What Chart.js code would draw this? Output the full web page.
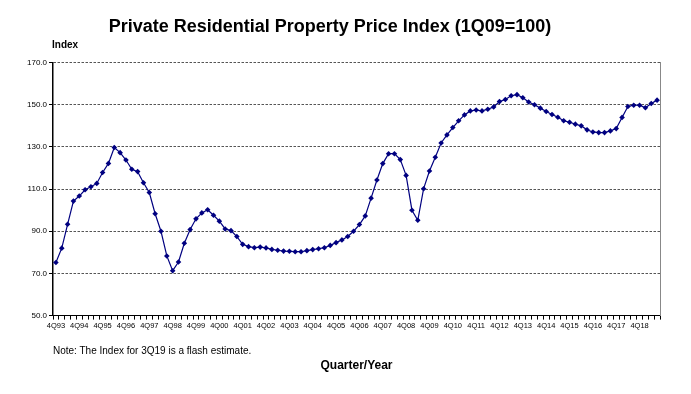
<!DOCTYPE html>
<html>
<head>
<meta charset="utf-8">
<script src="https://cdn.jsdelivr.net/npm/chart.js@4/dist/chart.umd.min.js"></script>
<style>
  body { margin: 0; background: #fff; }
  #wrap { position: relative; width: 691px; height: 394px; font-family: 'Liberation Sans', Arial, sans-serif; }
  #chart { position: absolute; left: 0; top: 0; }
  .lbl { position: absolute; color: #000; white-space: nowrap; }
  #yname { left: 52px; top: 39px; font-size: 10px; font-weight: bold; }
  #note { left: 53px; top: 345px; font-size: 10px; }
</style>
</head>
<body>
<div id="wrap">
  <canvas id="chart" width="691" height="394"></canvas>
  <div class="lbl" id="yname">Index</div>
  <div class="lbl" id="note">Note: The Index for 3Q19 is a flash estimate.</div>
</div>
<script>
// Quarterly labels, 4Q93 .. 3Q19
const firstYear = 1993;
const quarterLabels = [];
for (let y = firstYear; y <= 2019; y++) {
    for (let q = 1; q <= 4; q++) {
        if (y === 1993 && q < 4) continue;
        if (y === 2019 && q > 3) continue;
        quarterLabels.push(q + 'Q' + String(y).slice(2));
    }
}

// Index values (1Q09 = 100)
const priceIndex = [
    75.2, 82.0, 93.3, 104.3, 106.7, 109.7, 111.1, 112.7, 117.9, 122.2,
    129.7, 127.3, 123.8, 119.4, 118.3, 113.0, 108.4, 98.3, 90.0, 78.3,
    71.3, 75.4, 84.3, 90.8, 95.9, 98.7, 100.2, 97.6, 94.8, 91.1,
    90.3, 87.5, 83.8, 82.7, 82.2, 82.5, 82.1, 81.4, 81.0, 80.6,
    80.5, 80.3, 80.3, 80.8, 81.3, 81.7, 82.2, 83.3, 84.6, 85.9,
    87.5, 90.0, 93.2, 97.3, 105.7, 114.3, 122.1, 126.8, 126.8, 124.0,
    116.5, 100.0, 95.2, 110.2, 118.6, 125.1, 131.9, 135.7, 139.2, 142.4,
    145.2, 147.1, 147.5, 147.1, 147.9, 149.0, 151.5, 152.5, 154.3, 154.8,
    153.3, 151.3, 150.0, 148.4, 146.8, 145.4, 144.1, 142.4, 141.7, 140.8,
    140.0, 138.1, 137.1, 136.8, 136.8, 137.6, 138.7, 144.0, 149.2, 149.8,
    149.8, 148.6, 150.6, 152.2
];

// y axis range
const yMin = 50;
const yMax = 170;
const yStep = 20;

const ctx = document.getElementById('chart').getContext('2d');
new Chart(ctx, {
    type: 'line',
    data: {
        labels: quarterLabels,
        datasets: [{
            data: priceIndex,
            borderColor: '#000080',
            backgroundColor: '#000080',
            borderWidth: 1.2,
            pointStyle: 'rectRot',
            pointRadius: 2.8,
            pointBorderWidth: 0,
            tension: 0
        }]
    },
    options: {
        responsive: false,
        animation: false,
        layout: { padding: { left: 0, right: 31, top: 0, bottom: 21 } },
        plugins: {
            legend: { display: false },
            tooltip: { enabled: false },
            title: {
                display: true,
                text: 'Private Residential Property Price Index (1Q09=100)',
                color: '#000',
                font: { family: "'Liberation Sans', Arial, sans-serif", size: 18, weight: 'bold' },
                padding: { top: 16, bottom: 25 }
            }
        },
        scales: {
            x: {
                offset: true,
                grid: {
                    offset: true,
                    drawOnChartArea: false,
                    tickLength: 4,
                    tickColor: '#000'
                },
                border: { color: '#000', width: 1 },
                ticks: {
                    autoSkip: false,
                    maxRotation: 0,
                    padding: 2,
                    color: '#000',
                    font: { family: "'Liberation Sans', Arial, sans-serif", size: 7.5 },
                    callback: (v, i) => i % 4 === 0 ? quarterLabels[i] : ''
                },
                title: {
                    display: true,
                    text: 'Quarter/Year',
                    color: '#000',
                    font: { family: "'Liberation Sans', Arial, sans-serif", size: 12, weight: 'bold' },
                    padding: { top: 26, bottom: 0 }
                }
            },
            y: {
                min: yMin,
                max: yMax,
                afterFit: s => { s.width = 53; },
                grid: {
                    color: c => c.tick && c.tick.value === yMin ? 'rgba(0,0,0,0)' : '#555',
                    tickColor: '#000',
                    tickLength: 4
                },
                border: { color: '#000', width: 1.5, dash: [2.5, 1.5] },
                ticks: {
                    stepSize: yStep,
                    padding: 2,
                    color: '#000',
                    font: { family: "'Liberation Sans', Arial, sans-serif", size: 8 },
                    callback: v => v.toFixed(1)
                }
            },
            frame: {
                position: 'right',
                min: yMin,
                max: yMax,
                afterFit: s => { s.width = 0; },
                grid: { display: false },
                ticks: { display: false },
                border: { color: '#888', width: 1 }
            }
        }
    }
});
</script>
</body>
</html>
